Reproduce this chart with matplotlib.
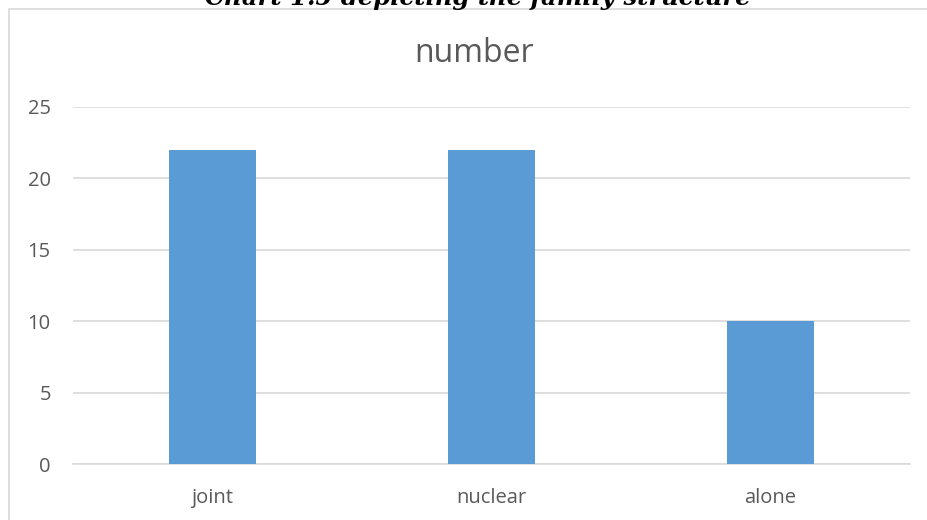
import matplotlib
matplotlib.use("Agg")
import matplotlib.pyplot as plt
from matplotlib.patches import Rectangle

categories = ["joint", "nuclear", "alone"]
values = [22, 22, 10]
yticks = [0, 5, 10, 15, 20, 25]
title = "number"
caption = "Chart 1.5 depicting the family structure"

W, H = 928, 520
fig = plt.figure(figsize=(W / 100, H / 100), dpi=100)
fig.patch.set_facecolor("white")

# outer chart border
fig.patches.append(Rectangle((9.5 / W, -0.1), 1.2, (H - 8.5) / H + 0.1,
                             transform=fig.transFigure, fill=False,
                             edgecolor="#D9D9D9", linewidth=1.2))

ax = fig.add_axes([73 / W, (H - 464) / H, 837 / W, (464 - 107) / H])
x = list(range(len(categories)))
ax.bar(x, values, width=0.31, color="#5B9BD5", zorder=3)
ax.set_xlim(-0.5, len(categories) - 0.5)
ax.set_ylim(0, 25)
ax.set_yticks(yticks)
ax.set_yticklabels([str(t) for t in yticks])
ax.set_xticks(x)
ax.set_xticklabels(categories)
ax.grid(axis="y", color="#D9D9D9", linewidth=1.2, zorder=0)
for s in ["top", "right", "left"]:
    ax.spines[s].set_visible(False)
ax.spines["bottom"].set_color("#D9D9D9")
ax.spines["bottom"].set_linewidth(1.2)
ax.tick_params(axis="both", length=0, labelsize=14.5, colors="#595959")
ax.tick_params(axis="y", pad=16)
ax.tick_params(axis="x", pad=17)
for lab in ax.get_xticklabels() + ax.get_yticklabels():
    lab.set_fontfamily("Open Sans")

fig.text(474 / W, 1 - 53 / H, title, ha="center", va="center",
         fontsize=23, color="#595959", fontfamily="Open Sans")
fig.text(478 / W, 1 - 5 / H, caption, ha="center", va="baseline",
         fontsize=17.5, fontweight="bold", fontstyle="italic",
         fontfamily="DejaVu Serif", color="black")

fig.savefig("out.png", dpi=100)
